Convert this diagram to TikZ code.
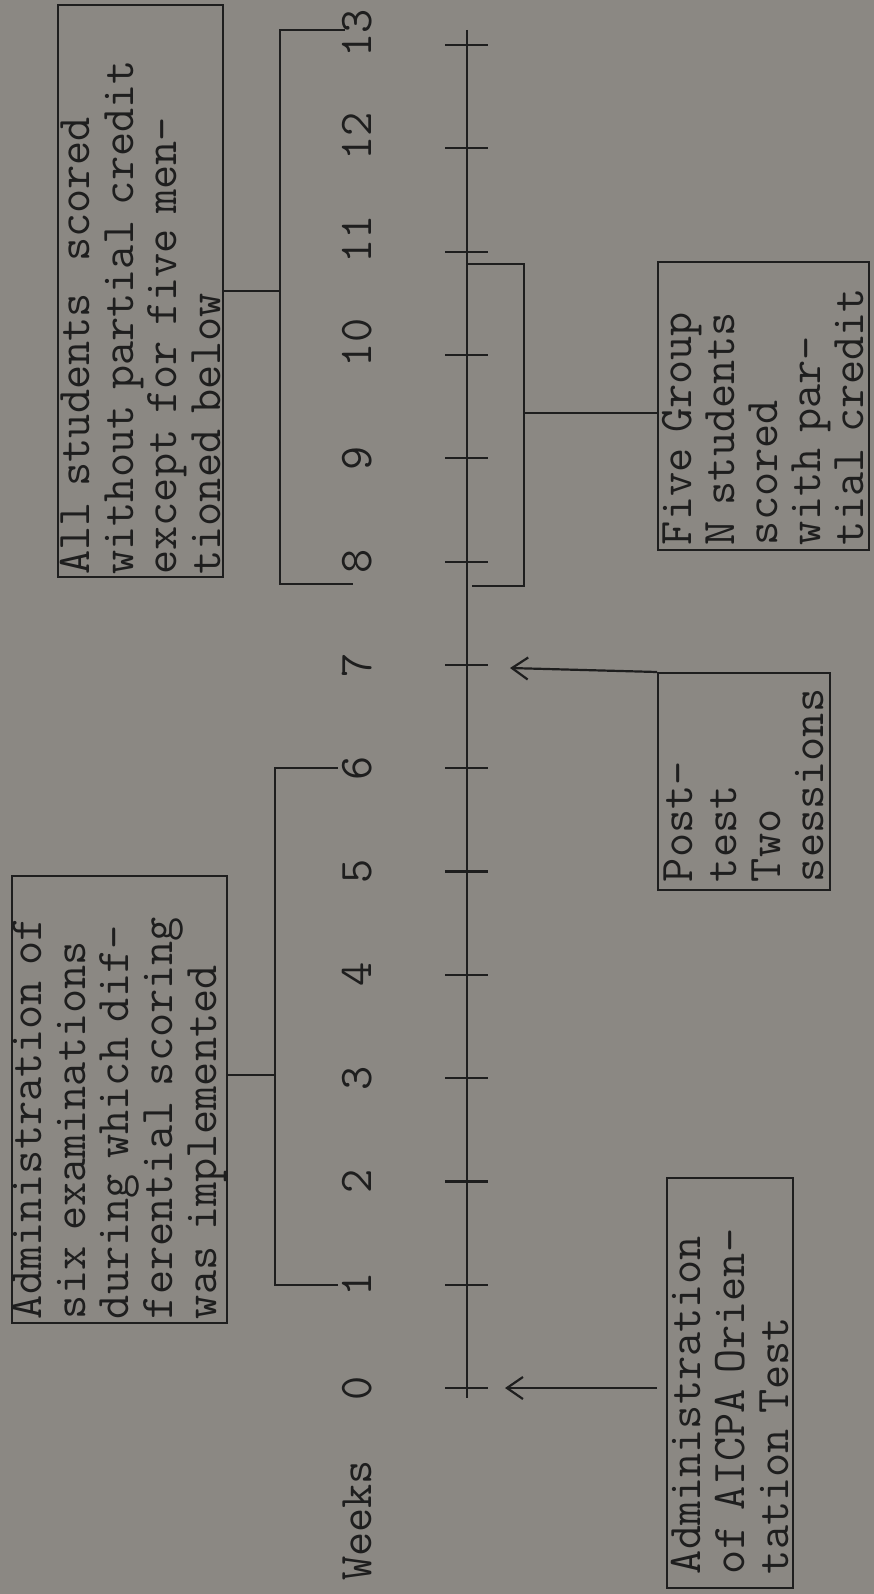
\documentclass[tikz,border=0pt]{standalone}
\usepackage{fontspec}
\usetikzlibrary{arrows.meta,calc}
\definecolor{bg}{RGB}{139,136,131}
\definecolor{ink}{RGB}{30,30,30}
\newcommand{\twfont}{\ttfamily\fontsize{46.9}{43.8}\selectfont\addfontfeature{FakeBold=1.6}}
\tikzset{
  ln/.style={draw=ink, line width=2.2pt},
  boxnode/.style={draw=ink, line width=2pt, rotate=90, inner sep=0pt, align=left, font=\twfont, text=ink},
  lbl/.style={rotate=90, inner sep=0pt, font=\twfont, text=ink},
  arr/.style={ln, -{Straight Barb[length=16pt,width=22pt]}},
}
\begin{document}
\begin{tikzpicture}[x=1pt,y=-1pt]
\fill[bg] (0,0) rectangle (874,1594);
\useasboundingbox (0,0) rectangle (874,1594);

% axis
\coordinate (axtop) at (467,30);
\coordinate (axbot) at (467,1398);
\draw[ln] (axtop) -- (axbot);
\foreach \k in {0,...,13}{
  \pgfmathsetmacro\yy{1388-103.3*\k}
  \coordinate (t\k) at (467,\yy);
  \draw[ln] ([xshift=-22pt]t\k) -- ([xshift=21pt]t\k);
  \node[lbl, anchor=base west] (w\k) at (371,\yy+12.3) {\k};
}
\node[lbl, anchor=base west] (weeks) at (371,1581) {Weeks};

% boxes
\node[boxnode, minimum width=410pt, minimum height=126pt, text width=382pt] (A) at (730,1383)
  {Administration\\of AICPA Orien-\\tation Test};
\node[boxnode, minimum width=447pt, minimum height=215pt, text width=439pt] (B) at (119.5,1099.5)
  {Administration of\\six examinations\\during which dif-\\ferential scoring\\was implemented};
\node[boxnode, minimum width=572pt, minimum height=165pt, text width=567pt] (C) at (140.5,291)
  {All students\ \ scored\\without partial credit\\except for five men-\\tioned below};
\node[boxnode, minimum width=217pt, minimum height=172pt, text width=201pt] (D) at (744,781.5)
  {Post-\\test\\Two\\sessions};
\node[boxnode, minimum width=288pt, minimum height=211pt, text width=278pt,
      font=\twfont\fontsize{46.9}{43}\selectfont] (E) at (763.5,406)
  {Five Group\\N students\\scored\\with par-\\tial credit};

% bracket weeks 1-6
\coordinate (b1) at (275,1075);
\draw[ln] (338,1284.7) -- (275,1284.7) -- (275,768.2) -- (338,768.2);
\draw[ln] (B.south |- b1) -- (b1);

% bracket weeks 8-13
\coordinate (c1) at (280,291);
\draw[ln] (345,30) -- (280,30) -- (280,584) -- (353,584);
\draw[ln] (C.south |- c1) -- (c1);

% bracket for Five Group
\coordinate (e1) at (524,413);
\draw[ln] (t11 |- 0,264) -- (524,264) -- (524,586) -- (472,586);
\draw[ln] (e1) -- (E.north |- e1);

% arrows
\coordinate (a0) at (505,1388);
\draw[arr] ($(A.north |- a0)+(-9,0)$) -- (a0);
\coordinate (a7) at (510,668);
\draw[arr] (D.north east) -- (a7);
\end{tikzpicture}
\end{document}
